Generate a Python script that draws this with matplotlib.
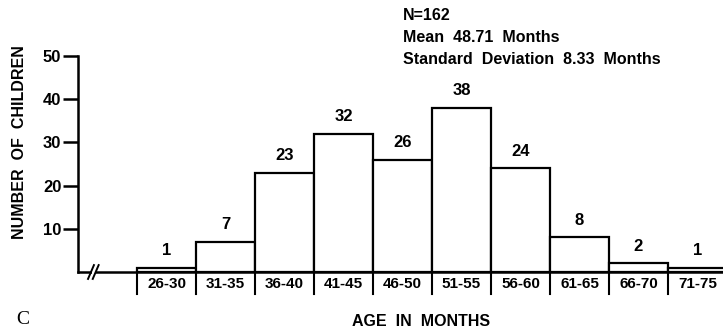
import matplotlib
matplotlib.use("Agg")
import matplotlib.pyplot as plt
import numpy as np

# age groups (months) and number of children per group
age_groups = ["26-30", "31-35", "36-40", "41-45", "46-50",
              "51-55", "56-60", "61-65", "66-70", "71-75"]
counts = [1, 7, 23, 32, 26, 38, 24, 8, 2, 1]
y_ticks = [10, 20, 30, 40, 50]
stats_lines = ["N=162", "Mean  48.71  Months", "Standard  Deviation  8.33  Months"]

W, H = 723, 329
plt.rcParams["font.family"] = ["Liberation Sans", "DejaVu Sans"]
plt.rcParams["font.weight"] = "bold"

fig = plt.figure(figsize=(W / 100, H / 100), dpi=100)
# axes placed in pixel terms: y axis at x=78, zero line at y=272, 50 at y=56
ax = fig.add_axes([78 / W, (H - 272) / H, (W - 78) / W, (272 - 56) / H])
ax.set_xlim(-1.0, (W - 137) / 59)
ax.set_ylim(0, 50)

x = np.arange(len(counts))
ax.bar(x, counts, width=1.0, align="edge", facecolor="white",
       edgecolor="black", linewidth=1.6, zorder=3)
for xi, c in zip(x, counts):
    ax.text(xi + 0.5, c + 2.2, str(c), ha="center", va="bottom",
            fontsize=12, fontweight="bold")

for s in ["top", "right", "bottom"]:
    ax.spines[s].set_visible(False)
ax.spines["left"].set_linewidth(1.8)
ax.set_yticks(y_ticks)
ax.set_yticklabels([str(v) for v in y_ticks], fontsize=12, fontweight="bold")
ax.tick_params(axis="y", length=11, width=1.8, pad=1)
ax.set_xticks([])

# baseline with a break mark near the y axis
ax.plot([-1.0, 10.0], [0, 0], color="black", lw=1.8, clip_on=False, zorder=4)
for dx in (-0.78, -0.70):
    ax.plot([dx - 0.05, dx + 0.05], [-1.6, 1.6], color="black", lw=1.4,
            clip_on=False, zorder=5)
ax.add_patch(plt.Rectangle((-0.77, -0.4), 0.06, 0.8, facecolor="white",
                           edgecolor="none", clip_on=False, zorder=4.5))

# separators and labels under the baseline
for e in range(len(counts)):
    ax.plot([e, e], [0, -5.2], color="black", lw=1.5, clip_on=False)
for xi, lab in zip(x, age_groups):
    ax.text(xi + 0.5, -2.7, lab, ha="center", va="center",
            fontsize=11, fontweight="bold")

ax.set_ylabel("NUMBER  OF  CHILDREN", fontsize=11.5, fontweight="bold")
ax.yaxis.set_label_coords(-51 / (W - 78), 0.60)
fig.text(421 / W, 1 - 322 / H, "AGE  IN  MONTHS", ha="center", va="center",
         fontsize=11.5, fontweight="bold")
fig.text(16 / W, 1 - 319 / H, "C", ha="left", va="center", fontsize=14,
         fontweight="normal", family="Liberation Serif")

for i, line in enumerate(stats_lines):
    fig.text(403 / W, 1 - (15 + 22 * i) / H, line, ha="left", va="center",
             fontsize=11.5, fontweight="bold")

fig.savefig("out.png", dpi=100)
